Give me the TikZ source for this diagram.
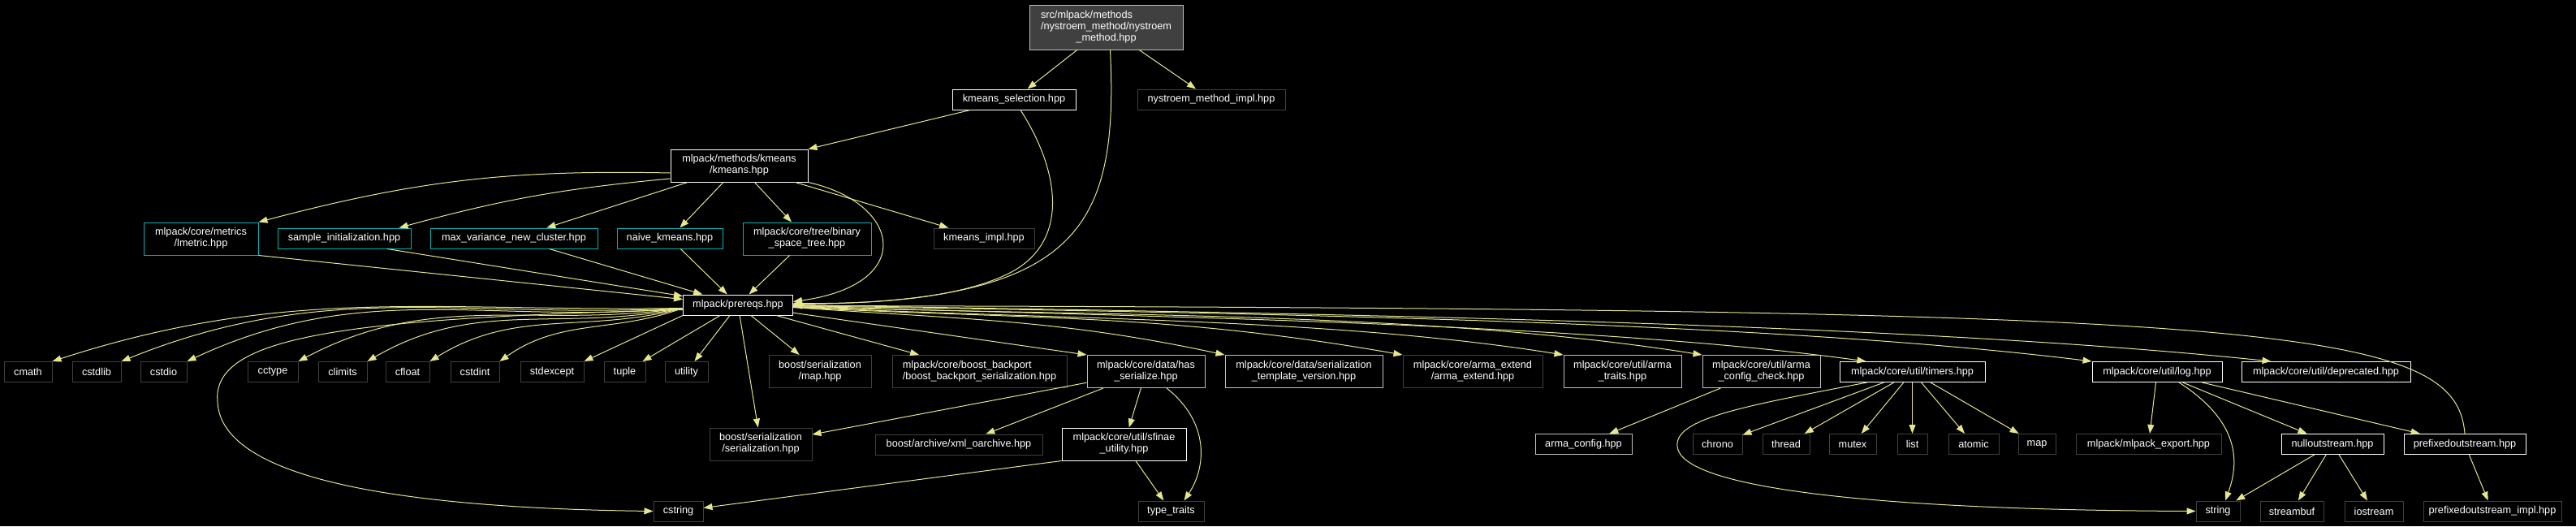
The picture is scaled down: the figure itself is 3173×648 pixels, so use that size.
\documentclass[tikz,border=0pt]{standalone}
\usepackage{fontspec}
\setmainfont{Liberation Sans}
\usetikzlibrary{arrows.meta}

\definecolor{hrana}{HTML}{E6E68C}
\definecolor{ramb}{HTML}{BFBFBF}
\definecolor{ramt}{HTML}{404040}
\definecolor{ramc}{HTML}{00B4B4}
\definecolor{koren}{HTML}{404040}

% popisek: radky vlevo, posledni na stred
\newcommand{\flab}[2]{\begin{tabular}{@{}l@{}}#1\\\multicolumn{1}{@{}c@{}}{#2}\end{tabular}}

\begin{document}
\begin{tikzpicture}[x=1pt, y=1pt,
    fnode/.style={draw, line width=1pt, fill=black, text=white, inner sep=0pt,
        minimum height=25pt, font=\fontsize{12.7}{14}\selectfont},
    wbox/.style={fnode, draw=white},
    gbox/.style={fnode, draw=ramb},
    dbox/.style={fnode, draw=ramt},
    cbox/.style={fnode, draw=ramc},
    rbox/.style={fnode, draw=ramb, fill=koren},
    tall/.style={minimum height=40pt},
    dep/.style={draw=hrana, line width=1pt, -{Triangle[length=11pt,width=8pt]}}]

    % Pozadi
    \useasboundingbox (0,0) rectangle (3173,-648);
    \fill[black] (0,0) rectangle (3173,-648);

    % Horni cast
    \node[rbox, minimum width=189pt, minimum height=55pt] (root) at (1362.5,-33.5) {\flab{src/mlpack/methods\\/nystroem\_method/nystroem}{\_method.hpp}};
    \node[wbox, minimum width=152pt] (ksel) at (1249,-122.5) {kmeans\_selection.hpp};
    \node[dbox, minimum width=182pt] (nimpl) at (1492,-122.5) {nystroem\_method\_impl.hpp};
    \node[wbox, tall, minimum width=169pt] (kmeans) at (910.5,-204) {\flab{mlpack/methods/kmeans}{/kmeans.hpp}};

    % Radek kmeans
    \node[cbox, tall, minimum width=141pt] (lmetric) at (247.5,-294) {\flab{mlpack/core/metrics}{/lmetric.hpp}};
    \node[cbox, minimum width=164pt] (sinit) at (424,-293.5) {sample\_initialization.hpp};
    \node[cbox, minimum width=206pt] (maxvar) at (633,-293.5) {max\_variance\_new\_cluster.hpp};
    \node[cbox, minimum width=130pt] (naive) at (825,-293.5) {naive\_kmeans.hpp};
    \node[cbox, tall, minimum width=158pt] (bst) at (994,-294) {\flab{mlpack/core/tree/binary}{\_space\_tree.hpp}};
    \node[dbox, minimum width=124pt] (kimpl) at (1212,-293.5) {kmeans\_impl.hpp};

    \node[wbox, minimum width=135pt] (prereqs) at (909,-375.5) {mlpack/prereqs.hpp};

    % Radek prereqs
    \foreach \n/\x/\w in {cmath/34.5/59, cstdlib/119/60, cstdio/201.5/57, cctype/336/62,
        climits/422/60, cfloat/502/54, cstdint/585/60, stdexcept/680/78, tuple/769.5/51, utility/845.5/53}
        \node[dbox, minimum width=\w pt] (\n) at (\x,-458) {\n};
    \node[dbox, tall, minimum width=126pt] (bmap) at (1010,-457.5) {\flab{boost/serialization}{/map.hpp}};
    \node[dbox, tall, minimum width=215pt] (backport) at (1206.5,-457.5) {\flab{mlpack/core/boost\_backport}{/boost\_backport\_serialization.hpp}};
    \node[gbox, tall, minimum width=145pt] (hasser) at (1411.5,-457.5) {\flab{mlpack/core/data/has}{\_serialize.hpp}};
    \node[gbox, tall, minimum width=194pt] (tver) at (1606,-457.5) {\flab{mlpack/core/data/serialization}{\_template\_version.hpp}};
    \node[dbox, tall, minimum width=172pt] (armaext) at (1814,-457.5) {\flab{mlpack/core/arma\_extend}{/arma\_extend.hpp}};
    \node[gbox, tall, minimum width=145pt] (armatr) at (1998.5,-457.5) {\flab{mlpack/core/util/arma}{\_traits.hpp}};
    \node[gbox, tall, minimum width=145pt] (armacc) at (2169.5,-457.5) {\flab{mlpack/core/util/arma}{\_config\_check.hpp}};
    \node[wbox, minimum width=179pt] (timers) at (2355.5,-458) {mlpack/core/util/timers.hpp};
    \node[wbox, minimum width=160pt] (log) at (2657,-458) {mlpack/core/util/log.hpp};
    \node[wbox, minimum width=208pt] (depr) at (2865,-458) {mlpack/core/util/deprecated.hpp};

    % Ctvrty radek
    \node[dbox, tall, minimum width=126pt] (bser) at (937,-547) {\flab{boost/serialization}{/serialization.hpp}};
    \node[dbox, minimum width=206pt] (xml) at (1181,-547.5) {boost/archive/xml\_oarchive.hpp};
    \node[wbox, tall, minimum width=153pt] (sfinae) at (1384.5,-547) {\flab{mlpack/core/util/sfinae}{\_utility.hpp}};
    \node[gbox, minimum width=119pt] (armacfg) at (1950.5,-547) {arma\_config.hpp};
    \foreach \n/\x/\w in {chrono/2115.5/61, thread/2200/58, mutex/2282/58, list/2355.5/37, atomic/2431/62, map/2509/46}
        \node[dbox, minimum width=\w pt] (\n) at (\x,-547) {\n};
    \node[dbox, minimum width=179pt] (mexport) at (2646.5,-547) {mlpack/mlpack\_export.hpp};
    \node[wbox, minimum width=126pt] (nullos) at (2873,-547) {nulloutstream.hpp};
    \node[wbox, minimum width=150pt] (prefos) at (3036,-547) {prefixedoutstream.hpp};

    % Spodni radek
    \node[dbox, minimum width=61pt] (cstring) at (835.5,-629.5) {cstring};
    \node[dbox, minimum width=81pt] (ttraits) at (1442.5,-629.5) {type\_traits};
    \node[dbox, minimum width=54pt] (string) at (2732,-629.5) {string};
    \node[dbox, minimum width=78pt] (streambuf) at (2823,-629.5) {streambuf};
    \node[dbox, minimum width=72pt] (iostream) at (2924,-629.5) {iostream};
    \node[dbox, minimum width=170pt] (pimpl) at (3070,-629.5) {prefixedoutstream\_impl.hpp};

    % Hrany z korene
    \draw[dep] (root) -- (ksel);
    \draw[dep] (root) -- (nimpl);
    \draw[dep] ([xshift=5pt]root.south) .. controls (1378,-280) and (1330,-372) .. ([yshift=1pt]prereqs.east);
    \draw[dep] (ksel) -- (kmeans);
    \draw[dep] ([xshift=8pt]ksel.south) .. controls (1305,-210) and (1320,-300) .. (1240,-338)
        .. controls (1170,-371) and (1060,-374) .. ([yshift=2pt]prereqs.east);

    % Hrany z kmeans
    \draw[dep] ([yshift=-9pt]kmeans.west) to[bend right=8] (lmetric.north east);
    \draw[dep] ([yshift=-16pt]kmeans.west) to[bend right=5] ([xshift=-15pt]sinit.north east);
    \draw[dep] (kmeans) -- (maxvar);
    \draw[dep] (kmeans) -- (naive);
    \draw[dep] (kmeans) -- (bst);
    \draw[dep] (kmeans) -- (kimpl);
    \draw[dep] (kmeans.south east) .. controls (1110,-250) and (1130,-350) .. ([yshift=4pt]prereqs.east);

    \draw[dep] (lmetric.south east) -- (prereqs);
    \draw[dep] ([xshift=53pt]sinit.south) -- (prereqs);
    \draw[dep] (maxvar) -- (prereqs);
    \draw[dep] (naive) -- (prereqs);
    \draw[dep] (bst) -- (prereqs);

    % Hrany z prereqs
    \foreach \n/\a/\b/\c/\d in {cmath/-305/-5/290/94, cstdlib/-272/-14/252/102, cstdio/-240/-21/218/102,
        cctype/-186/-26/166/88, climits/-152/-30/134/78, cfloat/-121/-32/106/66, cstdint/-86/-31/75/53}
        \draw[dep] ([yshift=-4pt]prereqs.west) .. controls +(\a,\b) and +(\c,\d) .. (\n.north east);
    \draw[dep] (prereqs.south west) -- (stdexcept.north east);
    \draw[dep] (prereqs) -- (tuple);
    \draw[dep] (prereqs) -- (utility);
    \draw[dep] (prereqs) -- (bser);
    \draw[dep] (prereqs) -- (bmap);
    \draw[dep] (prereqs) -- (backport);
    \draw[dep] (prereqs) -- (hasser.north west);
    \draw[dep] ([yshift=-3pt]prereqs.east) .. controls +(210,-15) and +(-205,44) .. (tver.north west);
    \draw[dep] ([yshift=-3pt]prereqs.east) .. controls +(295,-15) and +(-290,51) .. (armaext.north west);
    \draw[dep] ([yshift=-2pt]prereqs.east) .. controls +(298,-16) and +(-294,47) .. (armatr.north west);
    \draw[dep] ([yshift=-2pt]prereqs.east) .. controls +(351,-12) and +(-347,55) .. (armacc.north west);
    \draw[dep] ([yshift=-1pt]prereqs.east) .. controls +(363,-13) and +(-359,50) .. ([xshift=33pt]timers.north west);
    \draw[dep] ([yshift=-1pt]prereqs.east) .. controls +(439,-8) and +(-436,54) .. (log.north west);
    \draw[dep] (prereqs.east) .. controls +(500,-9) and +(-497,52) .. ([xshift=37pt]depr.north west);
    \draw[dep] ([yshift=-6pt]prereqs.west) .. controls (420,-392) and (260,-415) .. (268,-495)
        .. controls (272,-580) and (450,-625) .. (cstring.west);

    % has_serialize a sfinae
    \draw[dep] (hasser) -- (bser);
    \draw[dep] (hasser) -- (xml);
    \draw[dep] (hasser) -- (sfinae);
    \draw[dep] ([xshift=25.5pt]hasser.south) .. controls (1490,-520) and (1486,-575) .. ([xshift=16pt]ttraits.north);
    \draw[dep] (sfinae.south west) -- (cstring);
    \draw[dep] (sfinae) -- (ttraits);

    % util
    \draw[dep] (armacc) -- (armacfg);
    \foreach \n in {chrono, thread, mutex, list, atomic, map}
        \draw[dep] (timers) -- (\n);
    \draw[dep] ([xshift=-56pt]timers.south) .. controls (2150,-500) and (2062,-515) .. (2066,-550)
        .. controls (2071,-600) and (2300,-628) .. (string.west);
    \draw[dep] (log) -- (mexport);
    \draw[dep] ([xshift=27pt]log.south) .. controls (2760,-520) and (2758,-570) .. ([xshift=9pt]string.north);
    \draw[dep] (log) -- (nullos);
    \draw[dep] (log) -- (prefos);
    \draw[dep] (nullos) -- (string);
    \draw[dep] (nullos) -- (streambuf);
    \draw[dep] (nullos) -- (iostream);
    \draw[dep] (prefos) -- (pimpl);
    \draw[dep] (prefos.north) .. controls (3025,-400) and (2800,-380) .. ([yshift=-1pt]prereqs.east);

\end{tikzpicture}
\end{document}
